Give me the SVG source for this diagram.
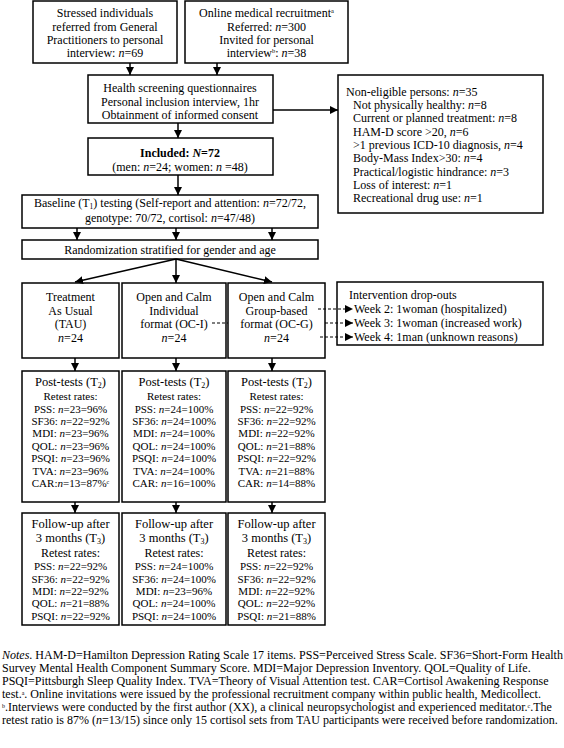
<svg xmlns="http://www.w3.org/2000/svg" width="564" height="748" viewBox="0 0 564 748">
<style>
.box{fill:#fff;stroke:#000;stroke-width:1.5}
text{font-family:"Liberation Serif","Times New Roman",serif;font-size:12px;fill:#000}
.c{text-anchor:middle}
.s{font-size:11px}
.h{font-size:12.5px}
.i{font-style:italic}
.conn{stroke:#000;stroke-width:1.5;fill:none}
.dash{stroke-dasharray:3 2;stroke-width:1.2}
</style>
<defs>
<marker id="ah" markerUnits="userSpaceOnUse" markerWidth="9" markerHeight="8" refX="8" refY="4" orient="auto">
<path d="M0,0 L8,4 L0,8 z" fill="#000"/>
</marker>
</defs>
<rect width="564" height="748" fill="#fff"/>

<g id="gp">
<rect class="box" x="33" y="1" width="144" height="62"/>
<text class="c" x="105" y="17">Stressed individuals</text>
<text class="c" x="105" y="31">referred from General</text>
<text class="c" x="105" y="44">Practitioners to personal</text>
<text class="c" x="105" y="57">interview: <tspan class="i">n</tspan>=69</text>
</g>

<g id="online">
<rect class="box" x="185" y="1" width="163" height="62"/>
<text class="c" x="266.5" y="17">Online medical recruitment<tspan font-size="6.5" dy="-4">a</tspan></text>
<text class="c" x="266.5" y="31">Referred: <tspan class="i">n</tspan>=300</text>
<text class="c" x="266.5" y="44">Invited for personal</text>
<text class="c" x="266.5" y="57">interview<tspan font-size="6.5" dy="-4">b</tspan><tspan dy="4">: </tspan><tspan class="i">n</tspan>=38</text>
</g>

<g id="screening">
<rect class="box" x="88" y="75" width="185" height="48"/>
<text class="c" x="180" y="92">Health screening questionnaires</text>
<text class="c" x="180" y="106">Personal inclusion interview, 1hr</text>
<text class="c" x="180" y="119">Obtainment of informed consent</text>
</g>

<g id="noneligible">
<rect class="box" x="338" y="75" width="205" height="138"/>
<text x="346" y="96">Non-eligible persons: <tspan class="i">n</tspan>=35</text>
<text x="353" y="109">Not physically healthy: <tspan class="i">n</tspan>=8</text>
<text x="353" y="122">Current or planned treatment: <tspan class="i">n</tspan>=8</text>
<text x="353" y="136">HAM-D score &gt;20, <tspan class="i">n</tspan>=6</text>
<text x="353" y="149">&gt;1 previous ICD-10 diagnosis, <tspan class="i">n</tspan>=4</text>
<text x="353" y="162">Body-Mass Index&gt;30: <tspan class="i">n</tspan>=4</text>
<text x="353" y="176">Practical/logistic hindrance: <tspan class="i">n</tspan>=3</text>
<text x="353" y="189">Loss of interest: <tspan class="i">n</tspan>=1</text>
<text x="353" y="202">Recreational drug use: <tspan class="i">n</tspan>=1</text>
</g>

<g id="included">
<rect class="box" x="88" y="138" width="185" height="37"/>
<text class="c" x="180" y="157" font-weight="bold">Included: <tspan class="i">N</tspan>=72</text>
<text class="c" x="180" y="171">(men: <tspan class="i">n</tspan>=24; women: <tspan class="i">n</tspan> =48)</text>
</g>

<g id="baseline">
<rect class="box" x="22" y="195" width="296" height="33"/>
<text class="c" x="170" y="207">Baseline (T<tspan font-size="7.5" dy="2">1</tspan><tspan dy="-2">) testing (Self-report and attention: </tspan><tspan class="i">n</tspan>=72/72,</text>
<text class="c" x="170" y="222">genotype: 70/72, cortisol: <tspan class="i">n</tspan>=47/48)</text>
</g>

<g id="randomization">
<rect class="box" x="22" y="240" width="296" height="19"/>
<text class="c" x="170" y="254">Randomization stratified for gender and age</text>
</g>

<g id="tau">
<rect class="box" x="22" y="283" width="97" height="75"/>
<text class="c" x="70.5" y="301">Treatment</text>
<text class="c" x="70.5" y="315">As Usual</text>
<text class="c" x="70.5" y="328">(TAU)</text>
<text class="c" x="70.5" y="342"><tspan class="i">n</tspan>=24</text>
</g>

<g id="oci">
<rect class="box" x="122" y="283" width="104" height="75"/>
<text class="c" x="174" y="301">Open and Calm</text>
<text class="c" x="174" y="315">Individual</text>
<text class="c" x="174" y="328">format (OC-I)</text>
<text class="c" x="174" y="342"><tspan class="i">n</tspan>=24</text>
</g>

<g id="ocg">
<rect class="box" x="228" y="283" width="97" height="75"/>
<text class="c" x="276.5" y="301">Open and Calm</text>
<text class="c" x="276.5" y="315">Group-based</text>
<text class="c" x="276.5" y="328">format (OC-G)</text>
<text class="c" x="276.5" y="342"><tspan class="i">n</tspan>=24</text>
</g>

<g id="dropouts">
<rect class="box" x="337" y="282" width="206" height="63"/>
<text x="349" y="299">Intervention drop-outs</text>
<text x="354" y="313">Week 2: 1woman (hospitalized)</text>
<text x="354" y="327">Week 3: 1woman (increased work)</text>
<text x="354" y="341">Week 4: 1man (unknown reasons)</text>
</g>

<g id="post-tau">
<rect class="box" x="22" y="371" width="97" height="131"/>
<text class="c h" x="70.5" y="386">Post-tests (T<tspan font-size="8" dy="2">2</tspan><tspan dy="-2">)</tspan></text>
<text class="c s" x="70.5" y="400">Retest rates:</text>
<text class="c s" x="70.5" y="413">PSS: <tspan class="i">n</tspan>=23=96%</text>
<text class="c s" x="70.5" y="425">SF36: <tspan class="i">n</tspan>=22=92%</text>
<text class="c s" x="70.5" y="437">MDI: <tspan class="i">n</tspan>=23=96%</text>
<text class="c s" x="70.5" y="450">QOL: <tspan class="i">n</tspan>=23=96%</text>
<text class="c s" x="70.5" y="462">PSQI: <tspan class="i">n</tspan>=23=96%</text>
<text class="c s" x="70.5" y="475">TVA: <tspan class="i">n</tspan>=23=96%</text>
<text class="c s" x="70.5" y="487">CAR:<tspan class="i">n</tspan>=13=87%<tspan font-size="6" dy="-3.5">c</tspan></text>
</g>

<g id="post-oci">
<rect class="box" x="122" y="371" width="104" height="131"/>
<text class="c h" x="174" y="386">Post-tests (T<tspan font-size="8" dy="2">2</tspan><tspan dy="-2">)</tspan></text>
<text class="c s" x="174" y="400">Retest rates:</text>
<text class="c s" x="174" y="413">PSS: <tspan class="i">n</tspan>=24=100%</text>
<text class="c s" x="174" y="425">SF36: <tspan class="i">n</tspan>=24=100%</text>
<text class="c s" x="174" y="437">MDI: <tspan class="i">n</tspan>=24=100%</text>
<text class="c s" x="174" y="450">QOL: <tspan class="i">n</tspan>=24=100%</text>
<text class="c s" x="174" y="462">PSQI: <tspan class="i">n</tspan>=24=100%</text>
<text class="c s" x="174" y="475">TVA: <tspan class="i">n</tspan>=24=100%</text>
<text class="c s" x="174" y="487">CAR: <tspan class="i">n</tspan>=16=100%</text>
</g>

<g id="post-ocg">
<rect class="box" x="228" y="371" width="97" height="131"/>
<text class="c h" x="276.5" y="386">Post-tests (T<tspan font-size="8" dy="2">2</tspan><tspan dy="-2">)</tspan></text>
<text class="c s" x="276.5" y="400">Retest rates:</text>
<text class="c s" x="276.5" y="413">PSS: <tspan class="i">n</tspan>=22=92%</text>
<text class="c s" x="276.5" y="425">SF36: <tspan class="i">n</tspan>=22=92%</text>
<text class="c s" x="276.5" y="437">MDI: <tspan class="i">n</tspan>=22=92%</text>
<text class="c s" x="276.5" y="450">QOL: <tspan class="i">n</tspan>=21=88%</text>
<text class="c s" x="276.5" y="462">PSQI: <tspan class="i">n</tspan>=22=92%</text>
<text class="c s" x="276.5" y="475">TVA: <tspan class="i">n</tspan>=21=88%</text>
<text class="c s" x="276.5" y="487">CAR: <tspan class="i">n</tspan>=14=88%</text>
</g>

<g id="fu-tau">
<rect class="box" x="22" y="513" width="97" height="112"/>
<text class="c h" x="70.5" y="528">Follow-up after</text>
<text class="c h" x="70.5" y="542">3 months (T<tspan font-size="8" dy="2">3</tspan><tspan dy="-2">)</tspan></text>
<text class="c" x="70.5" y="557">Retest rates:</text>
<text class="c s" x="70.5" y="570">PSS: <tspan class="i">n</tspan>=22=92%</text>
<text class="c s" x="70.5" y="583">SF36: <tspan class="i">n</tspan>=22=92%</text>
<text class="c s" x="70.5" y="595">MDI: <tspan class="i">n</tspan>=22=92%</text>
<text class="c s" x="70.5" y="607">QOL: <tspan class="i">n</tspan>=21=88%</text>
<text class="c s" x="70.5" y="620">PSQI: <tspan class="i">n</tspan>=22=92%</text>
</g>

<g id="fu-oci">
<rect class="box" x="122" y="513" width="104" height="112"/>
<text class="c h" x="174" y="528">Follow-up after</text>
<text class="c h" x="174" y="542">3 months (T<tspan font-size="8" dy="2">3</tspan><tspan dy="-2">)</tspan></text>
<text class="c" x="174" y="557">Retest rates:</text>
<text class="c s" x="174" y="570">PSS: <tspan class="i">n</tspan>=24=100%</text>
<text class="c s" x="174" y="583">SF36: <tspan class="i">n</tspan>=24=100%</text>
<text class="c s" x="174" y="595">MDI: <tspan class="i">n</tspan>=23=96%</text>
<text class="c s" x="174" y="607">QOL: <tspan class="i">n</tspan>=24=100%</text>
<text class="c s" x="174" y="620">PSQI: <tspan class="i">n</tspan>=24=100%</text>
</g>

<g id="fu-ocg">
<rect class="box" x="228" y="513" width="97" height="112"/>
<text class="c h" x="276.5" y="528">Follow-up after</text>
<text class="c h" x="276.5" y="542">3 months (T<tspan font-size="8" dy="2">3</tspan><tspan dy="-2">)</tspan></text>
<text class="c" x="276.5" y="557">Retest rates:</text>
<text class="c s" x="276.5" y="570">PSS: <tspan class="i">n</tspan>=22=92%</text>
<text class="c s" x="276.5" y="583">SF36: <tspan class="i">n</tspan>=22=92%</text>
<text class="c s" x="276.5" y="595">MDI: <tspan class="i">n</tspan>=22=92%</text>
<text class="c s" x="276.5" y="607">QOL: <tspan class="i">n</tspan>=22=92%</text>
<text class="c s" x="276.5" y="620">PSQI: <tspan class="i">n</tspan>=21=88%</text>
</g>

<g id="connectors">
<path class="conn" d="M130,63 V75" marker-end="url(#ah)"/>
<path class="conn" d="M217,63 V75" marker-end="url(#ah)"/>
<path class="conn" d="M273,110 H338" marker-end="url(#ah)"/>
<path class="conn" d="M178,123 V138" marker-end="url(#ah)"/>
<path class="conn" d="M178,175 V195" marker-end="url(#ah)"/>
<path class="conn" d="M77,228 V240" marker-end="url(#ah)"/>
<path class="conn" d="M176,228 V240" marker-end="url(#ah)"/>
<path class="conn" d="M272,228 V240" marker-end="url(#ah)"/>
<path class="conn" d="M176,259 L75,282" marker-end="url(#ah)"/>
<path class="conn" d="M176,259 V283" marker-end="url(#ah)"/>
<path class="conn" d="M176,259 L272,282" marker-end="url(#ah)"/>
<path class="conn" d="M75,358 V371" marker-end="url(#ah)"/>
<path class="conn" d="M176,358 V371" marker-end="url(#ah)"/>
<path class="conn" d="M272,358 V371" marker-end="url(#ah)"/>
<path class="conn" d="M75,502 V513" marker-end="url(#ah)"/>
<path class="conn" d="M176,502 V513" marker-end="url(#ah)"/>
<path class="conn" d="M272,502 V513" marker-end="url(#ah)"/>
<path class="conn dash" d="M318,309 H353" marker-end="url(#ah)"/>
<path class="conn dash" d="M212,323 H228 M325,323 H353" marker-end="url(#ah)"/>
<path class="conn dash" d="M320,337 H353" marker-end="url(#ah)"/>
</g>

<g id="notes">
<text x="2" y="659"><tspan class="i">Notes</tspan>. HAM-D=Hamilton Depression Rating Scale 17 items. PSS=Perceived Stress Scale. SF36=Short-Form Health</text>
<text x="2" y="672">Survey Mental Health Component Summary Score. MDI=Major Depression Inventory. QOL=Quality of Life.</text>
<text x="2" y="685">PSQI=Pittsburgh Sleep Quality Index. TVA=Theory of Visual Attention test. CAR=Cortisol Awakening Response</text>
<text x="2" y="698">test.<tspan font-size="6" dy="-3.5">a</tspan><tspan dy="3.5">. Online invitations were issued by the professional recruitment company within public health, Medicollect.</tspan></text>
<text x="2" y="711"><tspan font-size="6" dy="-3.5">b</tspan><tspan dy="3.5">.Interviews were conducted by the first author (XX), a clinical neuropsychologist and experienced meditator.</tspan><tspan font-size="6" dy="-3.5">c</tspan><tspan dy="3.5">.The</tspan></text>
<text x="2" y="724">retest ratio is 87% (<tspan class="i">n</tspan>=13/15) since only 15 cortisol sets from TAU participants were received before randomization.</text>
</g>
</svg>
